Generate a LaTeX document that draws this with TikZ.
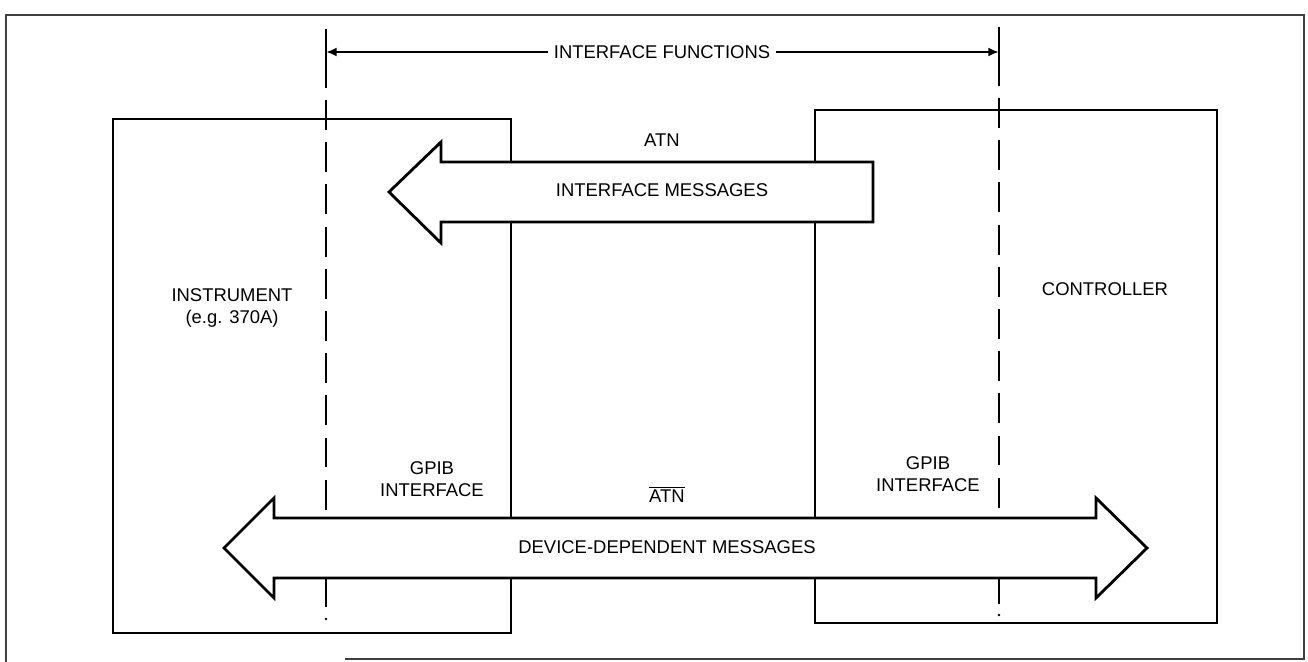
\documentclass[tikz,border=0pt]{standalone}
\usepackage{fontspec}
\setmainfont{Liberation Sans}
\usetikzlibrary{positioning, arrows.meta}

\begin{document}
\begin{tikzpicture}[
x=0.02cm, y=-0.02cm,
box/.style={draw, line width=1.3pt, inner sep=0pt},
lbl/.style={font=\fontsize{10.5}{12.5}\selectfont, align=center, inner sep=1pt},
bigarrow/.style={draw, fill=white, line width=1.6pt, line join=miter},
edge/.style={line width=1.3pt},
iface/.style={line width=1.3pt, dash pattern=on 17pt off 7pt},
>={Latex[length=6pt,width=5pt]}
]

\useasboundingbox (0,0) rectangle (1308,662);

% frame
\draw[line width=0.6pt, black!75] (345,659) -- (1304,659) -- (1304,15) -- (6,15) -- (6,662);

% units
\node[box, minimum width=7.96cm, minimum height=10.28cm] (instr) at (312,376) {};
\node[box, minimum width=8.04cm, minimum height=10.26cm] (ctrl) at (1016,366.5) {};

\node[lbl] (instrlbl) at (232,308) {INSTRUMENT\\(e.g. 370A)};
\node[lbl] (ctrllbl) at (1105,289) {CONTROLLER};
\node[lbl] (gpibL) at (432,479) {GPIB\\INTERFACE};
\node[lbl] (gpibR) at (928,474) {GPIB\\INTERFACE};

% interface function limits
\coordinate (lt) at (326,29);
\coordinate (lm) at (326,58);
\coordinate (lb) at (326,520);
\coordinate (ls) at (326,578);
\coordinate (le) at (326,607);
\coordinate (rt) at (999,27);
\coordinate (rm) at (999,56);
\coordinate (rb) at (999,516);
\coordinate (rs) at (999,578);
\coordinate (re) at (999,604);

\draw[edge] (lt) -- (lm);
\draw[iface] (lm) -- (lb);
\draw[edge] (ls) -- (le);
\fill (326,619) circle (0.8pt);
\draw[edge] (rt) -- (rm);
\draw[iface] (rm) -- (rb);
\draw[edge] (rs) -- (re);
\fill (999,615) circle (0.8pt);

\node[lbl, fill=white, inner sep=3pt] (ifun) at (662,52) {INTERFACE FUNCTIONS};
\coordinate (lend) at (326,52);
\coordinate (rend) at (999,52);
\draw[edge, ->] (ifun) -- (lend);
\draw[edge, ->] (ifun) -- (rend);

% ATN: interface messages
\draw[bigarrow] (873,162) -- (441,162) -- (441,142) -- (389,192) -- (441,243)
  -- (441,222) -- (873,222) -- cycle;
\node[lbl] (atn) at (662,140) {ATN};
\node[lbl] (imsg) at (662,190) {INTERFACE MESSAGES};

% not ATN: device-dependent messages
\draw[bigarrow] (274,518) -- (1096,518) -- (1096,498) -- (1147,548) -- (1096,598)
  -- (1096,578) -- (274,578) -- (274,598) -- (224,548) -- (274,498) -- cycle;
\node[lbl, anchor=base] (atnbar) at (667,502) {$\overline{\hbox{ATN}}$};
\node[lbl] (dmsg) at (667,547) {DEVICE-DEPENDENT MESSAGES};

\end{tikzpicture}
\end{document}
